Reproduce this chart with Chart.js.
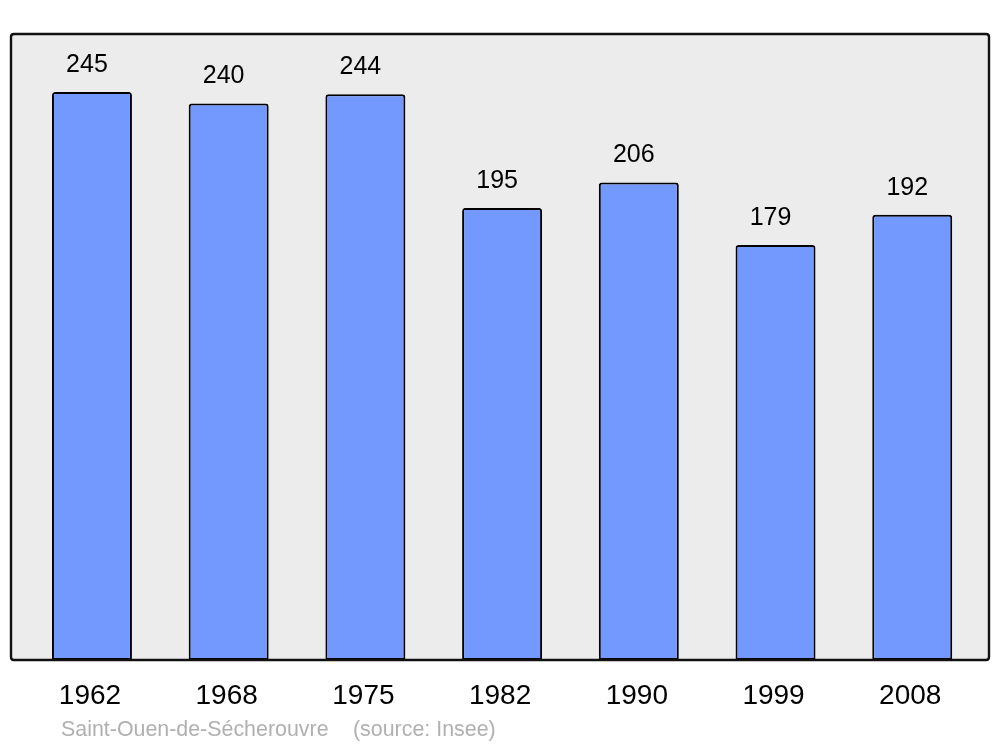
<!DOCTYPE html>
<html>
<head>
<meta charset="utf-8">
<script src="https://cdn.jsdelivr.net/npm/chart.js@4"></script>
<style>
html,body{margin:0;padding:0;background:#fff;}
#wrap{width:1000px;height:747px;position:relative;}
</style>
</head>
<body>
<div id="wrap"><canvas id="c" width="1000" height="747"></canvas></div>
<script>
const years = ["1962","1968","1975","1982","1990","1999","2008"];
const population = [245,240,244,195,206,179,192];
const placeName = "Saint-Ouen-de-Sécherouvre";
const sourceText = "(source: Insee)";

const FONT = '"Liberation Sans", Arial, sans-serif';

function roundRect(ctx,x,y,w,h,r){
  ctx.beginPath();
  ctx.moveTo(x+r,y);
  ctx.lineTo(x+w-r,y);
  ctx.quadraticCurveTo(x+w,y,x+w,y+r);
  ctx.lineTo(x+w,y+h-r);
  ctx.quadraticCurveTo(x+w,y+h,x+w-r,y+h);
  ctx.lineTo(x+r,y+h);
  ctx.quadraticCurveTo(x,y+h,x,y+h-r);
  ctx.lineTo(x,y+r);
  ctx.quadraticCurveTo(x,y,x+r,y);
  ctx.closePath();
}

const framePlugin = {
  id:'frame',
  beforeDatasetsDraw(chart){
    const {ctx, chartArea:a} = chart;
    ctx.save();
    roundRect(ctx, a.left-12.6, a.top, (a.right+8.4)-(a.left-12.6), a.bottom-a.top, 3);
    ctx.fillStyle = '#ececec';
    ctx.fill();
    ctx.restore();
  },
  afterDatasetsDraw(chart){
    const {ctx, chartArea:a, scales} = chart;
    ctx.save();
    roundRect(ctx, a.left-12.6, a.top, (a.right+8.4)-(a.left-12.6), a.bottom-a.top, 3);
    ctx.lineWidth = 2.4;
    ctx.strokeStyle = '#111';
    ctx.stroke();
    // value labels
    const meta = chart.getDatasetMeta(0);
    ctx.fillStyle = '#000';
    ctx.font = '25px ' + FONT;
    ctx.textAlign = 'center';
    ctx.textBaseline = 'middle';
    meta.data.forEach((bar,i)=>{
      ctx.fillText(String(population[i]), bar.x-5, bar.y-27);
    });
    // category labels
    ctx.font = '28px ' + FONT;
    years.forEach((y,i)=>{
      ctx.fillText(y, scales.x.getPixelForValue(i)-2, a.bottom+36);
    });
    // footer
    ctx.fillStyle = '#b0b0b0';
    ctx.font = '21.4px ' + FONT;
    ctx.textAlign = 'left';
    ctx.fillText(placeName, 61, a.bottom+70);
    ctx.fillText(sourceText, 353, a.bottom+70);
    ctx.restore();
  }
};

new Chart(document.getElementById('c'), {
  type:'bar',
  data:{
    labels: years,
    datasets:[{
      data: population,
      backgroundColor:'#7399ff',
      borderColor:'#000',
      borderWidth:2,
      borderRadius:{topLeft:3, topRight:3, bottomLeft:0, bottomRight:0},
      borderSkipped:false,
      categoryPercentage:1,
      barPercentage:0.585
    }]
  },
  options:{
    responsive:false,
    animation:false,
    layout:{padding:{left:23.6, right:19.4, top:34, bottom:87}},
    plugins:{legend:{display:false}, tooltip:{enabled:false}},
    scales:{
      x:{display:false, offset:true},
      y:{display:false, min:0, max:270}
    }
  },
  plugins:[framePlugin]
});
</script>
</body>
</html>
